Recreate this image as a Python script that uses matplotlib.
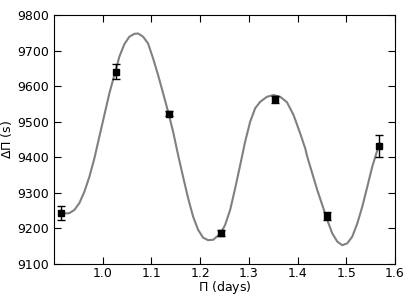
import matplotlib
matplotlib.use("Agg")
import matplotlib.pyplot as plt

# observed period spacings
period = [0.914, 1.027, 1.136, 1.2425, 1.3527, 1.460, 1.568]
dpi_obs = [9243, 9641, 9523, 9188, 9563, 9235, 9432]
dpi_err = [20, 20, 6, 8, 10, 12, 32]

# fitted model curve
curve_x = [0.914, 0.9212, 0.9315, 0.9418, 0.952, 0.9623, 0.9726, 0.9829,
           0.9931, 1.0034, 1.0137, 1.0239, 1.0342, 1.0444, 1.0547, 1.065,
           1.0726, 1.0829, 1.0931, 1.1034, 1.1137, 1.124, 1.1342, 1.1445,
           1.1548, 1.165, 1.1753, 1.1856, 1.1959, 1.2061, 1.2164, 1.2267,
           1.237, 1.2411, 1.2513, 1.2616, 1.2719, 1.2822, 1.2924, 1.3027,
           1.313, 1.3233, 1.337, 1.3506, 1.3644, 1.3781, 1.3917, 1.4054,
           1.4157, 1.4198, 1.4301, 1.4404, 1.4507, 1.4609, 1.4712, 1.4815,
           1.4917, 1.502, 1.5123, 1.5226, 1.5328, 1.5431, 1.5534, 1.5637,
           1.5684]
curve_y = [9244, 9242, 9243, 9252, 9271, 9303, 9345, 9397,
           9458, 9519, 9580, 9631, 9683, 9718, 9739, 9747,
           9748, 9739, 9720, 9678, 9631, 9580, 9528, 9472,
           9406, 9345, 9285, 9233, 9196, 9174, 9167, 9168,
           9180, 9184, 9210, 9252, 9313, 9378, 9444, 9500,
           9538, 9556, 9570, 9575, 9570, 9555, 9519, 9467,
           9425, 9402, 9355, 9308, 9266, 9224, 9186, 9163,
           9153, 9158, 9177, 9214, 9261, 9317, 9374, 9420,
           9439]

fig = plt.figure(figsize=(4.15, 2.97), dpi=100)
ax = fig.add_axes([54 / 415, 1 - 264 / 297, (395 - 54) / 415, (264 - 15) / 297])

ax.plot(curve_x, curve_y, color="gray", lw=1.5, solid_joinstyle="round")
ax.errorbar(period, dpi_obs, yerr=dpi_err, fmt="s", color="black",
            ms=4.5, capsize=3, elinewidth=1, capthick=1)

ax.set_xlim(0.9, 1.6)
ax.set_ylim(9100, 9800)
ax.set_xticks([1.0, 1.1, 1.2, 1.3, 1.4, 1.5, 1.6])
ax.set_yticks(range(9100, 9801, 100))
ax.tick_params(direction="in", top=True, right=True, length=5, labelsize=9)
ax.tick_params(axis="x", pad=2.5)
ax.set_xlabel(r"$\Pi$ (days)", fontsize=9, labelpad=-1)
ax.set_ylabel(r"$\Delta\Pi$ (s)", fontsize=9, labelpad=2)

fig.savefig("out.png", dpi=100)
